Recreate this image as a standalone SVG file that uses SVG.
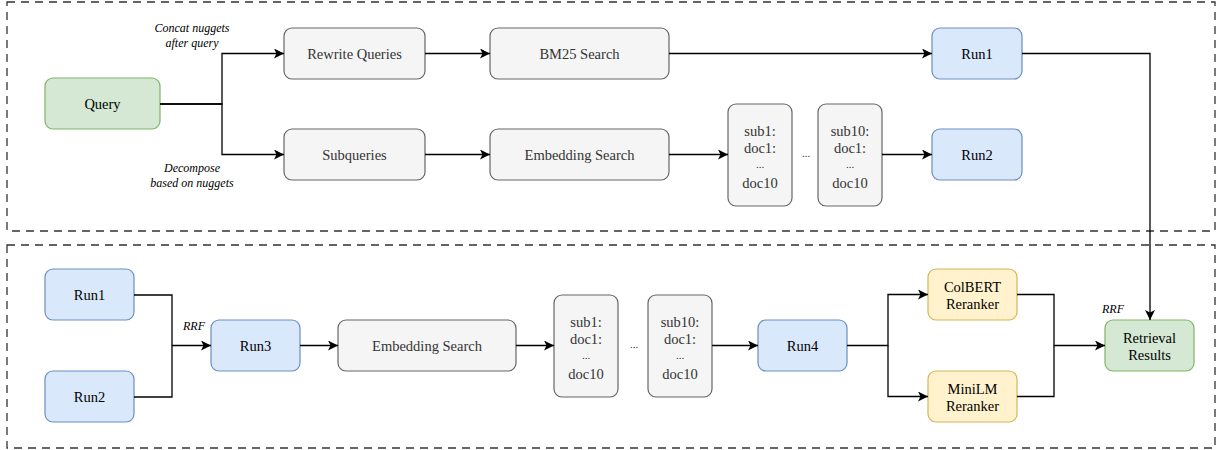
<svg xmlns="http://www.w3.org/2000/svg" width="1220" height="450" viewBox="0 0 1220 450">
<defs>
<style>
.frame{fill:none;stroke:#333;stroke-width:1.3;stroke-dasharray:8 6}
.grey{fill:#f5f5f5;stroke:#666;stroke-width:1.2}
.blue{fill:#dae8fc;stroke:#6c8ebf;stroke-width:1.2}
.green{fill:#d5e8d4;stroke:#82b366;stroke-width:1.2}
.yellow{fill:#fff2cc;stroke:#d6b656;stroke-width:1.2}
text{font-family:"Liberation Serif",Tinos,"Times New Roman","Noto Serif","DejaVu Serif",serif;font-size:14.5px;text-anchor:middle;dominant-baseline:central}
.gt{fill:#333}
.bt{fill:#000}
.lbl{font-size:12px;font-style:italic;fill:#000}
.dots{font-size:11px;fill:#333}
.c path{fill:none;stroke:#000;stroke-width:1.3}
</style>
<marker id="arr" viewBox="0 0 10 10" refX="10" refY="5" markerWidth="10" markerHeight="10" markerUnits="userSpaceOnUse" orient="auto">
<path d="M0,0 L10,5 L0,10 L2.5,5 Z" fill="#000"/>
</marker>
</defs>
<g id="frames">
<rect class="frame" x="7" y="2" width="1208" height="229"/>
<rect class="frame" x="7" y="245" width="1208" height="203"/>
</g>
<g id="query"><rect class="green" x="45" y="78" width="115" height="51" rx="8"/><text class="bt" x="102.5" y="104">Query</text></g>
<g id="rewrite"><rect class="grey" x="284" y="28" width="141" height="51" rx="8"/><text class="gt" x="354.5" y="54">Rewrite Queries</text></g>
<g id="subqueries"><rect class="grey" x="284" y="129" width="141" height="51" rx="8"/><text class="gt" x="354.5" y="155">Subqueries</text></g>
<g id="bm25"><rect class="grey" x="490" y="28" width="179" height="51" rx="8"/><text class="gt" x="579.5" y="54">BM25 Search</text></g>
<g id="embed1"><rect class="grey" x="490" y="129" width="179" height="51" rx="8"/><text class="gt" x="579.5" y="155">Embedding Search</text></g>
<g id="doc1a"><rect class="grey" x="728" y="104" width="64" height="102" rx="8"/>
<text class="gt" x="760" y="131">sub1:</text><text class="gt" x="760" y="148">doc1:</text><text class="dots" x="760" y="164">...</text><text class="gt" x="760" y="183">doc10</text></g>
<text class="dots" x="806" y="153">...</text>
<g id="doc10a"><rect class="grey" x="818" y="104" width="64" height="102" rx="8"/>
<text class="gt" x="850" y="131">sub10:</text><text class="gt" x="850" y="148">doc1:</text><text class="dots" x="850" y="164">...</text><text class="gt" x="850" y="183">doc10</text></g>
<g id="run1a"><rect class="blue" x="932" y="28" width="90" height="51" rx="8"/><text class="bt" x="977" y="54">Run1</text></g>
<g id="run2a"><rect class="blue" x="932" y="129" width="90" height="51" rx="8"/><text class="bt" x="977" y="155">Run2</text></g>

<g id="run1b"><rect class="blue" x="45" y="269" width="89" height="51" rx="8"/><text class="bt" x="89.5" y="295">Run1</text></g>
<g id="run2b"><rect class="blue" x="45" y="371" width="89" height="51" rx="8"/><text class="bt" x="89.5" y="397">Run2</text></g>
<g id="run3"><rect class="blue" x="211" y="320" width="89" height="51" rx="8"/><text class="bt" x="255.5" y="346">Run3</text></g>
<g id="embed2"><rect class="grey" x="338" y="320" width="178" height="51" rx="8"/><text class="gt" x="427" y="346">Embedding Search</text></g>
<g id="doc1b"><rect class="grey" x="554" y="295" width="64" height="102" rx="8"/>
<text class="gt" x="586" y="322">sub1:</text><text class="gt" x="586" y="339">doc1:</text><text class="dots" x="586" y="355">...</text><text class="gt" x="586" y="374">doc10</text></g>
<text class="dots" x="634" y="344">...</text>
<g id="doc10b"><rect class="grey" x="648" y="295" width="64" height="102" rx="8"/>
<text class="gt" x="680" y="322">sub10:</text><text class="gt" x="680" y="339">doc1:</text><text class="dots" x="680" y="355">...</text><text class="gt" x="680" y="374">doc10</text></g>
<g id="run4"><rect class="blue" x="758" y="320" width="89" height="51" rx="8"/><text class="bt" x="802.5" y="346">Run4</text></g>
<g id="colbert"><rect class="yellow" x="928" y="269" width="89" height="51" rx="8"/><text class="bt" x="972.5" y="287">ColBERT</text><text class="bt" x="972.5" y="304">Reranker</text></g>
<g id="minilm"><rect class="yellow" x="928" y="371" width="89" height="51" rx="8"/><text class="bt" x="972.5" y="389">MiniLM</text><text class="bt" x="972.5" y="406">Reranker</text></g>
<g id="results"><rect class="green" x="1105" y="320" width="89" height="51" rx="8"/><text class="bt" x="1149.5" y="338">Retrieval</text><text class="bt" x="1149.5" y="355">Results</text></g>

<g id="labels">
<text class="lbl" x="192" y="28">Concat nuggets</text>
<text class="lbl" x="192" y="43">after query</text>
<text class="lbl" x="192" y="168">Decompose</text>
<text class="lbl" x="192" y="183">based on nuggets</text>
<text class="lbl" x="194" y="326">RRF</text>
<text class="lbl" x="1113" y="309">RRF</text>
</g>

<g id="connectors" class="c">
<path d="M160,104 H222 V53.5 H284" marker-end="url(#arr)"/>
<path d="M160,104 H222 V154.5 H284" marker-end="url(#arr)"/>
<path d="M425,53.5 H490" marker-end="url(#arr)"/>
<path d="M669,53.5 H932" marker-end="url(#arr)"/>
<path d="M425,154.5 H490" marker-end="url(#arr)"/>
<path d="M669,154.5 H728" marker-end="url(#arr)"/>
<path d="M882,154.5 H932" marker-end="url(#arr)"/>
<path d="M1022,53.5 H1150 V320" marker-end="url(#arr)"/>
<path d="M134,295 H172 V345.5 H211" marker-end="url(#arr)"/>
<path d="M134,397 H172 V345.5"/>
<path d="M300,345.5 H338" marker-end="url(#arr)"/>
<path d="M516,345.5 H554" marker-end="url(#arr)"/>
<path d="M712,345.5 H758" marker-end="url(#arr)"/>
<path d="M847,345.5 H888 V294.5 H928" marker-end="url(#arr)"/>
<path d="M888,345.5 V396.5 H928" marker-end="url(#arr)"/>
<path d="M1017,294.5 H1054 V345.5 H1105" marker-end="url(#arr)"/>
<path d="M1017,396.5 H1054 V345.5"/>
</g>
</svg>
